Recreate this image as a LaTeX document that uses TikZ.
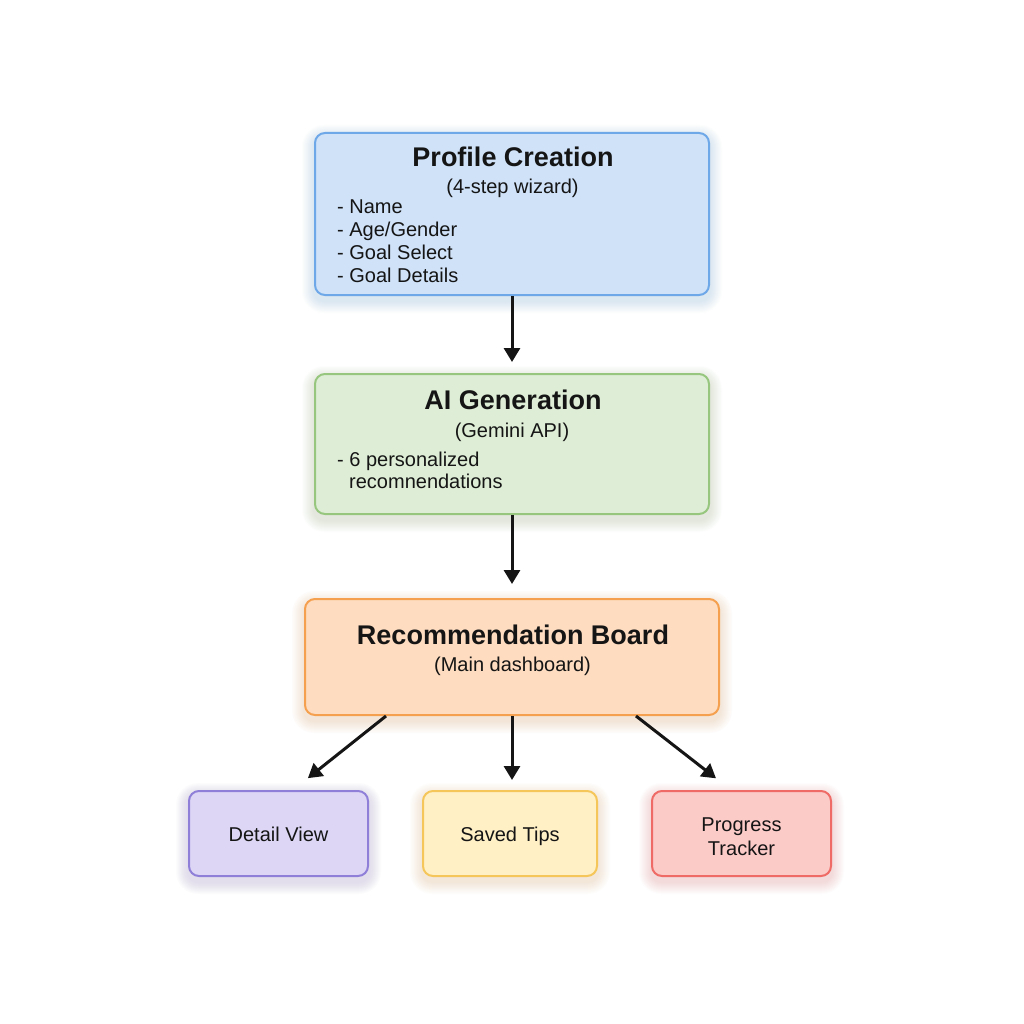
\documentclass[tikz,border=0pt]{standalone}
\usepackage{fontspec}
\setmainfont{Liberation Sans}
\usetikzlibrary{arrows.meta,backgrounds}
\definecolor{txt}{HTML}{151515}
\definecolor{bluef}{HTML}{CFE2F8}
\definecolor{blueb}{HTML}{6FA8E8}
\definecolor{greenf}{HTML}{DEEED6}
\definecolor{greenb}{HTML}{97C67F}
\definecolor{orangef}{HTML}{FDDCC0}
\definecolor{orangeb}{HTML}{F5A04F}
\definecolor{purplef}{HTML}{DDD7F5}
\definecolor{purpleb}{HTML}{8F7FD9}
\definecolor{yellowf}{HTML}{FFF0C6}
\definecolor{yellowb}{HTML}{F5C65A}
\definecolor{redf}{HTML}{FBCBC8}
\definecolor{redb}{HTML}{EE6B66}
\newcommand\myglow[2]{%
  \foreach \r in {1,...,12}{%
    \pgfmathsetmacro\rc{10+\r}%
    \fill[#2, opacity=0.018, rounded corners=\rc pt]
      ([xshift=-\r pt, yshift={\r pt-5pt}]#1.north west) rectangle
      ([xshift=\r pt, yshift={-\r pt-5pt}]#1.south east);
  }}
\begin{document}
\begin{tikzpicture}[x=1pt,y=-1pt,
  box/.style={draw, line width=2pt, rounded corners=10pt, inner sep=0pt},
  ttl/.style={anchor=base, inner sep=0pt, text=txt, font=\fontsize{27}{31}\selectfont\bfseries},
  sub/.style={anchor=base, inner sep=0pt, text=txt, font=\fontsize{20}{24}\selectfont},
  item/.style={anchor=base west, inner sep=0pt, text=txt, font=\fontsize{20}{24}\selectfont},
  conn/.style={-{Triangle[length=14pt,width=16pt]}, line width=3pt, draw=txt}]
\useasboundingbox (0,0) rectangle (1024,1024);

% boxes
\node[box, fill=bluef, draw=blueb, minimum width=394pt, minimum height=162pt] (profile) at (512,214) {};
\node[box, fill=greenf, draw=greenb, minimum width=394pt, minimum height=140pt] (ai) at (512,444) {};
\node[box, fill=orangef, draw=orangeb, minimum width=414pt, minimum height=116pt] (rec) at (512,657) {};
\node[box, fill=purplef, draw=purpleb, minimum width=179pt, minimum height=85pt] (detail) at (278.5,833.5) {};
\node[box, fill=yellowf, draw=yellowb, minimum width=174pt, minimum height=85pt] (saved) at (510,833.5) {};
\node[box, fill=redf, draw=redb, minimum width=179pt, minimum height=85pt] (progress) at (741.5,833.5) {};

\begin{scope}[on background layer]
  \fill[white] (0,0) rectangle (1024,1024);
  \myglow{profile}{blueb!70!gray}
  \myglow{ai}{greenb!70!gray}
  \myglow{rec}{orangeb!70!gray}
  \myglow{detail}{purpleb!70!gray}
  \myglow{saved}{yellowb!70!gray}
  \myglow{progress}{redb!70!gray}
\end{scope}

% texts
\node[ttl] (t1) at (513,167) {Profile Creation};
\node[sub] (s1) at (512.5,194) {(4-step wizard)};
\node[item] (i11) at (337,214) {- Name};
\node[item] (i12) at (337,236.5) {- Age/Gender};
\node[item] (i13) at (337,259) {- Goal Select};
\node[item] (i14) at (337,282) {- Goal Details};

\node[ttl] (t2) at (513,409) {AI Generation};
\node[sub] (s2) at (512,437) {(Gemini API)};
\node[item] (i21) at (337,466) {- 6 personalized};
\node[item] (i22) at (349,488) {recomnendations};

\node[ttl] (t3) at (513,644) {Recommendation Board};
\node[sub] (s3) at (512.5,671) {(Main dashboard)};

\node[sub] (t4) at (278.5,841) {Detail View};
\node[sub] (t5) at (510,841) {Saved Tips};
\node[sub] (t6a) at (741.5,831) {Progress};
\node[sub] (t6b) at (741.5,855) {Tracker};

% connectors
\draw[conn, shorten >=11pt] (profile.south) -- (ai.north);
\draw[conn, shorten >=14pt] (ai.south) -- (rec.north);
\draw[conn, shorten >=10pt] (rec.south) -- (rec.south |- saved.north);
\draw[conn, shorten >=19pt] ([xshift=-126pt]rec.south) -- ([xshift=14.5pt]detail.north);
\draw[conn, shorten >=19pt] ([xshift=124pt]rec.south) -- ([xshift=-10.5pt]progress.north);
\end{tikzpicture}
\end{document}
